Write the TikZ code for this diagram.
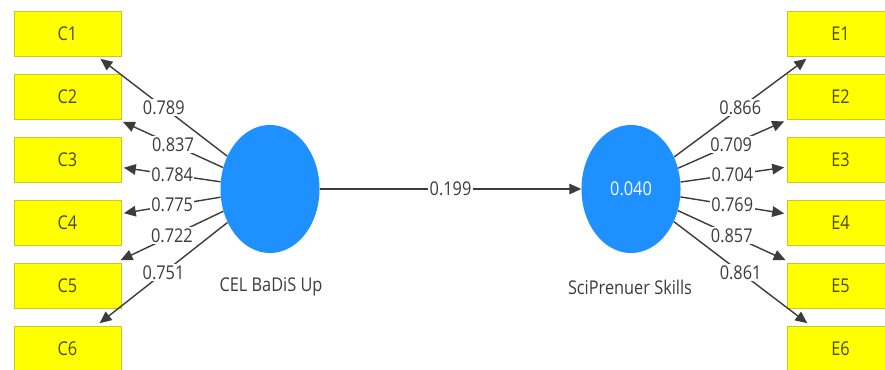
\documentclass[tikz,border=0pt]{standalone}
\usepackage{fontspec}
\setmainfont{Open Sans}[FakeStretch=0.86]
\usetikzlibrary{arrows.meta,shapes.geometric}
\definecolor{plsyellow}{RGB}{255,255,0}
\definecolor{plsedge}{RGB}{200,200,40}
\definecolor{plsblue}{RGB}{30,144,255}
\definecolor{plsline}{RGB}{60,60,60}
\definecolor{plstext}{RGB}{60,60,60}
\begin{document}
\begin{tikzpicture}[
x=0.025cm,y=-0.025cm,
font=\fontsize{13.5}{16}\selectfont,
indicator/.style={draw=plsedge,fill=plsyellow,thin,minimum width=2.675cm,minimum height=1.125cm,inner sep=0pt,outer sep=2pt,text={rgb,255:red,75;green,75;blue,15}},
construct/.style={ellipse,fill=plsblue,minimum width=2.475cm,minimum height=3.2cm,inner sep=0pt},
loading/.style={fill=white,inner sep=1pt,text=plstext},
link/.style={draw=plsline,line width=1pt,-{Triangle[length=8.5pt,width=7.5pt]}},
]
\useasboundingbox (0,0) rectangle (885,369);
% indicators
\node[indicator] (C1) at (67.5,33.5) {C1};
\node[indicator] (C2) at (67.5,96.5) {C2};
\node[indicator] (C3) at (67.5,159.5) {C3};
\node[indicator] (C4) at (67.5,222.5) {C4};
\node[indicator] (C5) at (67.5,285.5) {C5};
\node[indicator] (C6) at (67.5,348.5) {C6};
\node[indicator] (E1) at (840.5,33.5) {E1};
\node[indicator] (E2) at (840.5,96.5) {E2};
\node[indicator] (E3) at (840.5,159.5) {E3};
\node[indicator] (E4) at (840.5,222.5) {E4};
\node[indicator] (E5) at (840.5,285.5) {E5};
\node[indicator] (E6) at (840.5,348.5) {E6};
% constructs
\node[construct] (cel) at (270,189) {};
\node[construct,text=white] (sci) at (631,189) {0.040};
\node[text=plstext] (celname) at (271,287) {CEL BaDiS Up};
\node[text=plstext] (sciname) at (630,287) {SciPrenuer Skills};
% loadings
\path[link]
    (cel) -- (C1) node[loading,pos=0.5] {0.789};
\path[link]
    (cel) -- (C2) node[loading,pos=0.5] {0.837};
\path[link]
    (cel) -- (C3) node[loading,pos=0.5] {0.784};
\path[link]
    (cel) -- (C4) node[loading,pos=0.5] {0.775};
\path[link]
    (cel) -- (C5) node[loading,pos=0.5] {0.722};
\path[link]
    (cel) -- (C6) node[loading,pos=0.5] {0.751};
\path[link]
    (sci) -- (E1) node[loading,pos=0.5] {0.866};
\path[link]
    (sci) -- (E2) node[loading,pos=0.5] {0.709};
\path[link]
    (sci) -- (E3) node[loading,pos=0.5] {0.704};
\path[link]
    (sci) -- (E4) node[loading,pos=0.5] {0.769};
\path[link]
    (sci) -- (E5) node[loading,pos=0.5] {0.857};
\path[link]
    (sci) -- (E6) node[loading,pos=0.5] {0.861};
% path coefficient
\path[link]
    (cel) -- (sci) node[loading,pos=0.5] {0.199};
\end{tikzpicture}
\end{document}
